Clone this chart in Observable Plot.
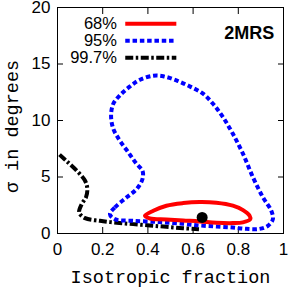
<!DOCTYPE html>
<html><head><meta charset="utf-8">
<script src="https://cdn.jsdelivr.net/npm/d3@7"></script>
<script src="https://cdn.jsdelivr.net/npm/@observablehq/plot@0.6"></script>
<style>body{margin:0;background:#fff}</style>
</head><body><div id="chart"></div>
<script>
const xTicks = [0, 0.2, 0.4, 0.6, 0.8, 1];
const yTicks = [0, 5, 10, 15, 20];

const c68x = [0.387,0.424,0.482,0.556,0.629,0.703,0.776,0.821,0.850,0.853,0.820,0.776,0.703,0.629,0.556,0.482,0.409];
const c68y = [1.57,2.01,2.46,2.69,2.78,2.72,2.46,2.07,1.57,1.27,0.98,0.92,0.95,1.07,1.15,1.24,1.33];

const c95x = [0.232,0.254,0.306,0.350,0.376,0.376,0.350,0.313,0.276,0.247,0.237,0.247,0.276,0.321,0.365,0.424,0.468,0.526,0.585,0.644,0.688,0.732,0.776,0.821,0.865,0.909,0.946,0.953,0.931,0.894,0.835,0.776,0.703,0.629,0.556,0.453,0.335,0.254];
const c95y = [1.72,2.31,3.20,3.93,4.82,5.56,6.15,7.19,8.22,9.26,10.44,11.48,12.22,13.02,13.61,13.96,13.91,13.55,13.02,12.37,11.48,10.30,8.82,7.04,4.97,3.20,2.01,1.27,0.68,0.41,0.41,0.53,0.62,0.71,0.86,1.01,1.12,1.27];

const c997x = [0.009,0.041,0.085,0.122,0.132,0.126,0.107,0.096,0.122,0.188,0.262,0.335,0.409,0.482,0.556,0.626];
const c997y = [6.98,6.39,5.56,4.67,3.93,3.20,2.60,1.86,1.36,1.12,0.95,0.83,0.71,0.59,0.47,0.38];

const bestX = [0.64];
const bestY = [1.42];

const legendLabels = ["68%", "95%", "99.7%"];
const legendColors = ["#ff0000", "#0000ff", "#000000"];
const legendDash = ["none", "4.5,2.8", "8,2.5,2.5,2.5"];

const pts = (xs, ys) => xs.map((x, i) => ({x, y: ys[i]}));
const legend = legendLabels.map((label, i) => ({label, color: legendColors[i], dash: legendDash[i], y: 18.56 - i * 1.5}));

const sans = "'Liberation Sans', Arial, sans-serif";
const mono = "'Liberation Mono', 'DejaVu Sans Mono', monospace";

const chart = Plot.plot({
  width: 291, height: 288,
  marginLeft: 57, marginRight: 8, marginTop: 7, marginBottom: 55,
  style: {fontFamily: sans, color: "#000", background: "#fff"},
  x: {domain: [0, 1]},
  y: {domain: [0, 20]},
  marks: [
    Plot.frame({stroke: "#000", strokeWidth: 1}),
    Plot.axisX({ticks: xTicks, tickSize: 0, tickPadding: 9, tickFormat: d => String(d), fontSize: 17, label: null, fontFamily: sans}),
    Plot.axisY({ticks: yTicks, tickSize: 0, tickPadding: 7, fontSize: 17, label: null, fontFamily: sans}),
    Plot.axisX({ticks: xTicks, anchor: "bottom", tickSize: -6, text: null, label: null}),
    Plot.axisX({ticks: xTicks, anchor: "top", tickSize: -6, text: null, label: null}),
    Plot.axisY({ticks: yTicks, anchor: "left", tickSize: -6, text: null, label: null}),
    Plot.axisY({ticks: yTicks, anchor: "right", tickSize: -6, text: null, label: null}),
    Plot.line(pts(c997x, c997y), {x: "x", y: "y", stroke: "#000", strokeWidth: 4, strokeDasharray: legendDash[2], strokeLinecap: "butt", curve: "catmull-rom"}),
    Plot.line(pts(c95x, c95y), {x: "x", y: "y", stroke: "#0000ff", strokeWidth: 4, strokeDasharray: legendDash[1], strokeLinecap: "butt", curve: "catmull-rom-closed"}),
    Plot.line(pts(c68x, c68y), {x: "x", y: "y", stroke: "#ff0000", strokeWidth: 4, strokeLinecap: "butt", curve: "catmull-rom-closed"}),
    Plot.dot(pts(bestX, bestY), {x: "x", y: "y", r: 5.5, fill: "#000"}),
    ...legend.map(d => Plot.ruleY([d], {y: "y", x1: 0.302, x2: 0.528, stroke: d.color, strokeWidth: 4, strokeDasharray: d.dash, strokeLinecap: "butt"})),
    Plot.text(legend, {y: "y", x: 0.263, text: "label", textAnchor: "end", fontSize: 16.5, fontFamily: sans}),
    Plot.text(["2MRS"], {x: 0.848, y: 17.73, text: d => d, fontSize: 18, fontWeight: "bold", fontFamily: sans}),
    Plot.text(["Isotropic fraction"], {frameAnchor: "bottom", textAnchor: "middle", lineAnchor: "middle", dy: 44, text: d => d, fontSize: 18.5, fontFamily: mono}),
    Plot.text(["σ in degrees"], {frameAnchor: "left", textAnchor: "middle", lineAnchor: "middle", dx: -45, dy: 6, rotate: -90, text: d => d, fontSize: 18.5, fontFamily: mono})
  ]
});
document.getElementById("chart").append(chart);
</script>
</body></html>
